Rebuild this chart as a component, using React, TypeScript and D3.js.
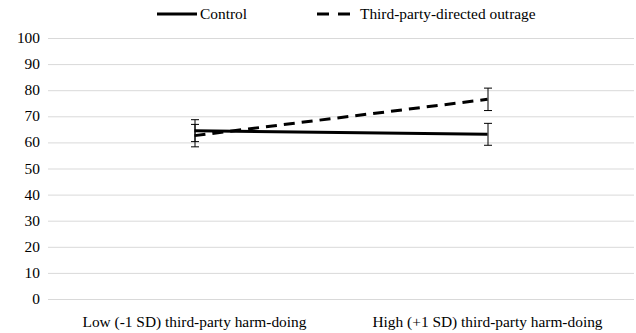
import React from "react";
import * as d3 from "d3";

const categories = [
  "Low (-1 SD) third-party harm-doing",
  "High (+1 SD) third-party harm-doing",
];
const seriesNames = ["Control", "Third-party-directed outrage"];
const controlValues = [64.5, 63.1];
const controlErrors = [4.2, 4.2];
const outrageValues = [62.6, 76.5];
const outrageErrors = [4.3, 4.3];
const yTicks = [0, 10, 20, 30, 40, 50, 60, 70, 80, 90, 100];

const FONT = "'Liberation Serif', 'Times New Roman', Times, serif";

const width = 636;
const height = 333;
const margin = { top: 38, right: 2, bottom: 34, left: 48 };
const innerW = width - margin.left - margin.right;
const innerH = height - margin.top - margin.bottom;

const txt = { fontFamily: FONT, fontSize: "15.4px" };

const App = () => {
  const x = d3.scaleBand().domain(categories).range([0, innerW]);
  const y = d3.scaleLinear().domain([0, 100]).range([innerH, 0]);
  const cx = (i: number) => x(categories[i])! + x.bandwidth() / 2;

  const line = d3
    .line<number>()
    .x((_, i) => cx(i))
    .y((d) => y(d));

  const series = [
    { name: seriesNames[0], values: controlValues, errors: controlErrors, dash: undefined },
    { name: seriesNames[1], values: outrageValues, errors: outrageErrors, dash: "11,7" },
  ];

  return (
    <div style={{ position: "absolute", left: 0, top: 0 }}>
      <svg width={width} height={height}>
        <rect width={width} height={height} fill="#fff" />
        <g transform={`translate(${margin.left}, ${margin.top})`}>
          {/* gridlines */}
          {yTicks.map((t) => (
            <line
              key={`g${t}`}
              x1={0}
              x2={innerW}
              y1={y(t) + 0.5}
              y2={y(t) + 0.5}
              stroke="#d9d9d9"
              strokeWidth={1}
            />
          ))}
          {/* y tick labels */}
          {yTicks.map((t) => (
            <text key={`t${t}`} x={-8} y={y(t) + 5} textAnchor="end" style={txt}>
              {t}
            </text>
          ))}
          {/* x labels */}
          {categories.map((c) => (
            <text
              key={c}
              x={x(c)! + x.bandwidth() / 2}
              y={innerH + 28}
              textAnchor="middle"
              style={txt}
            >
              {c}
            </text>
          ))}
          {series.map((s) => (
            <g key={s.name}>
              <path
                d={line(s.values) || ""}
                fill="none"
                stroke="#000"
                strokeWidth={3}
                strokeDasharray={s.dash}
              />
              {s.values.map((v, i) => {
                const top = y(v + s.errors[i]);
                const bot = y(v - s.errors[i]);
                const px = cx(i) + 0.5;
                return (
                  <g key={i} stroke="#000" strokeWidth={1}>
                    <line x1={px} x2={px} y1={top} y2={bot} />
                    <line x1={px - 4} x2={px + 4} y1={top} y2={top} />
                    <line x1={px - 4} x2={px + 4} y1={bot} y2={bot} />
                  </g>
                );
              })}
            </g>
          ))}
        </g>
        {/* legend */}
        <g transform="translate(157, 14)">
          <line x1={0} x2={40} stroke="#000" strokeWidth={3} />
          <text x={43} y={5} style={txt}>
            {seriesNames[0]}
          </text>
          <line x1={160} x2={197} stroke="#000" strokeWidth={3} strokeDasharray="12,9" />
          <text x={203} y={5} style={txt}>
            {seriesNames[1]}
          </text>
        </g>
      </svg>
    </div>
  );
};

export default App;
